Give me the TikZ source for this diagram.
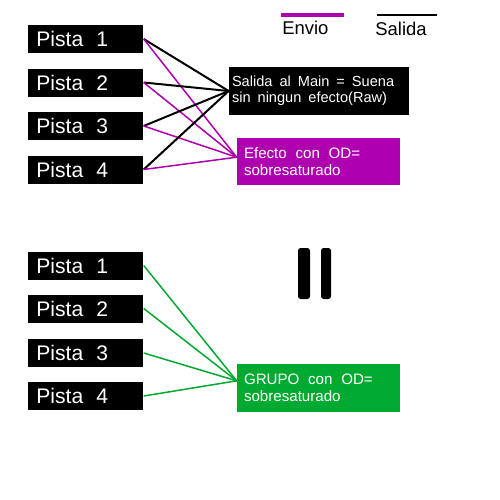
\documentclass[tikz,border=0pt]{standalone}
\usepackage{fontspec}
\setmainfont{Liberation Sans}
\usepackage{tikz}

\definecolor{envio}{RGB}{174,0,174}
\definecolor{grupo}{RGB}{0,170,48}

% wider word gaps, as in the picture
\newcommand{\pistasp}{\spaceskip 0.62em\relax}
\newcommand{\mainsp}{\spaceskip 0.48em\relax}
\newcommand{\efsp}{\spaceskip 0.58em\relax}

\tikzset{
	pista/.style={fill=black, text=white, font=\fontsize{12}{14}\selectfont,
		execute at begin node=\pistasp,
		minimum width=23mm, minimum height=5.6mm, inner xsep=1.6mm,
		text width=19.8mm, align=left, anchor=west},
	bus/.style={font=\fontsize{8.3}{9}\selectfont, execute at begin node=\mainsp,
		text=white, align=left, minimum height=9.5mm, inner ysep=0pt},
	efbus/.style={bus, minimum width=32.6mm, inner xsep=1.4mm, text width=29.8mm,
		font=\fontsize{8.6}{9.8}\selectfont, execute at begin node=\efsp},
	salidaline/.style={black, line width=0.4mm},
	envioline/.style={envio, line width=0.3mm},
	grupoline/.style={grupo, line width=0.3mm}
}

\begin{document}
\begin{tikzpicture}[x=0.2mm, y=-0.2mm]
		% page frame (500 x 500)
		\useasboundingbox (0,0) rectangle (500,500);

		% Legend
		\draw[envio, line width=0.8mm] (281,15) -- (344,15);
		\node[anchor=base west, inner sep=0pt, font=\fontsize{10.5}{12}\selectfont] (lenvio) at (282,34) {Envio};
		\draw[black, line width=0.4mm] (377,15) -- (437,15);
		\node[anchor=base west, inner sep=0pt, font=\fontsize{10.5}{12}\selectfont] (lsalida) at (375,36) {Salida};

		% Upper group: tracks
		\foreach \i/\y in {1/39, 2/82.5, 3/126, 4/169.5} {
				\node[pista] (p\i) at (28,\y) {Pista \i};
			}

		% Main out and effect
		\node[bus, fill=black, minimum width=36mm, inner xsep=0.6mm, text width=34.8mm] (main) at (319,91)
		{Salida al Main = Suena\\sin ningun efecto(Raw)};
		\node[efbus, fill=envio] (efecto) at (318.5,161.5)
		{Efecto con OD=\\sobresaturado};

		% Outputs and sends
		\foreach \i in {1,...,4} {
				\draw[salidaline] (p\i.east) -- (main.west);
				\draw[envioline] (p\i.east) -- (efecto.177);
			}

		% Equals sign
		\fill[rounded corners=1.5pt] (298,248) rectangle (310,299);
		\fill[rounded corners=1.5pt] (321,248) rectangle (331,299);

		% Lower group: tracks into the group bus
		\foreach \i/\y in {1/265.5, 2/308.5, 3/353, 4/396} {
				\node[pista] (q\i) at (28,\y) {Pista \i};
			}
		\node[efbus, fill=grupo] (grupo) at (318.5,388)
		{GRUPO con OD=\\sobresaturado};
		\foreach \i in {1,...,4} {
				\draw[grupoline] (q\i.east) -- (grupo.175);
			}
	\end{tikzpicture}
\end{document}
